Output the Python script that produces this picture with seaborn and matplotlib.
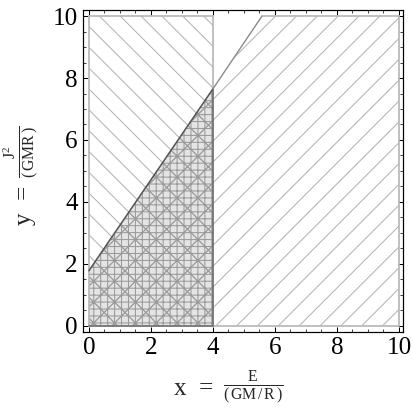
import numpy as np
import pandas as pd
import matplotlib
matplotlib.use("Agg")
import matplotlib.pyplot as plt
import seaborn as sns
from matplotlib.ticker import MultipleLocator

# ---- data ----
split_x = 4.0                      # vertical boundary of the left region
line_x = [0.0, 4.0, 5.58]          # sloped boundary of the lower region
line_y = [1.77, 7.65, 10.0]
x_range = [0.0, 10.0]
y_range = [0.0, 10.0]
tick_values = [0, 2, 4, 6, 8, 10]

sns.set_style("ticks")
plt.rcParams["font.family"] = ["Liberation Serif", "DejaVu Serif"]
plt.rcParams["mathtext.fontset"] = "custom"
plt.rcParams["mathtext.rm"] = "Liberation Serif"
plt.rcParams["mathtext.it"] = "Liberation Serif:italic"
plt.rcParams["hatch.linewidth"] = 0.6

DPI = 125
W, H = 413, 412
fig = plt.figure(figsize=(W / DPI, H / DPI), dpi=DPI)
ax = fig.add_axes([83 / W, 1 - 332 / H, 320 / W, 322 / H])

hatch_col = "#b4b4b4"

# region B: below the sloped line (hatched "/")
bx = [line_x[0], line_x[-1], x_range[1]]
by = [line_y[0], line_y[-1], y_range[1]]
ax.fill_between(bx, y_range[0], by, facecolor="none", edgecolor=hatch_col,
                hatch="//", linewidth=0, zorder=1)

# region A: x < split (hatched "\")
ax.fill_between([x_range[0], split_x], y_range[0], y_range[1], facecolor="none",
                edgecolor=hatch_col, hatch="\\\\", linewidth=0, zorder=1)

# intersection: gray fill with cross + grid hatch
ix = [line_x[0], line_x[1]]
iy = [line_y[0], line_y[1]]
ax.fill_between(ix, y_range[0], iy, facecolor="#e4e4e4", edgecolor="none",
                linewidth=0, zorder=0)
ax.fill_between(ix, y_range[0], iy, facecolor="none", edgecolor="#9a9a9a",
                hatch="xx+++", linewidth=0, zorder=1.5)

# outlines
edge_light = "#b8b8b8"
ax.plot([x_range[0], split_x, split_x], [y_range[1], y_range[1], line_y[1]],
        color=edge_light, lw=1.0, zorder=2)
ax.plot([x_range[0], x_range[0]], [y_range[0], y_range[1]], color=edge_light, lw=1.0, zorder=2)
ax.plot([line_x[-1], x_range[1], x_range[1], split_x],
        [y_range[1], y_range[1], y_range[0], y_range[0]],
        color=edge_light, lw=1.0, zorder=2)
ax.plot([x_range[0], split_x, split_x], [y_range[0], y_range[0], line_y[1]],
        color="#6e6e6e", lw=1.0, zorder=2)

df = pd.DataFrame({"x": line_x, "y": line_y})
sns.lineplot(data=df.iloc[:2], x="x", y="y", color="#555555", lw=0.9, ax=ax, zorder=3)
sns.lineplot(data=df.iloc[1:], x="x", y="y", color="#8a8a8a", lw=0.8, ax=ax, zorder=3)

ax.set_xlim(-0.19, 10.13)
ax.set_ylim(-0.21, 10.2)
ax.set_xticks(tick_values)
ax.set_yticks(tick_values)
ax.xaxis.set_minor_locator(MultipleLocator(0.5))
ax.yaxis.set_minor_locator(MultipleLocator(0.5))
ax.tick_params(which="major", direction="in", length=3.0, width=0.6,
               top=True, right=True, labelsize=14.5, pad=3, colors="black")
ax.tick_params(which="minor", direction="in", length=1.7, width=0.5,
               top=True, right=True)
for s in ax.spines.values():
    s.set_linewidth(0.7)
    s.set_color("black")
ax.set_xlabel("")
ax.set_ylabel("")

# axis labels: variable name + fraction (drawn as two text pieces)
fig.text(213 / W, 1 - 389 / H, r"x  =", fontsize=14.5, ha="right", va="center")
fig.text(253 / W, 1 - 388 / H,
         r"$\frac{\mathrm{E}}{(\,\mathrm{GM}\,/\,\mathrm{R}\,)}$",
         fontsize=13, ha="center", va="center")
fig.text(25 / W, 1 - 205 / H, r"y  =", fontsize=14.5, ha="center", va="center",
         rotation=90)
fig.text(21 / W, 1 - 152 / H,
         r"$\frac{\mathrm{J}^{2}}{(\,\mathrm{GMR}\,)}$",
         fontsize=13, ha="center", va="center", rotation=90)

fig.savefig("out.png", dpi=DPI)
